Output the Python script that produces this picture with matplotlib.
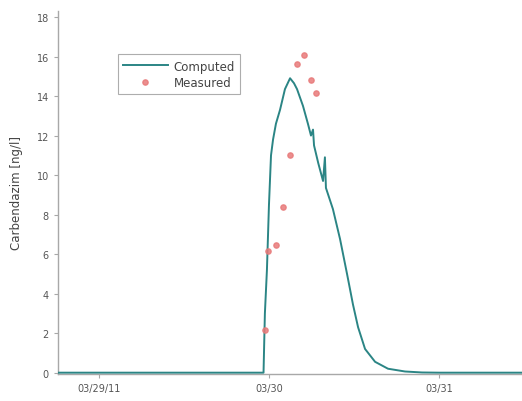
import matplotlib
matplotlib.use("Agg")
import matplotlib.pyplot as plt
import pandas as pd

start = pd.Timestamp("2011-03-29")

# Computed series: time offsets (days from 03/29/11 00:00) and concentration [ng/l]
comp_days = [-0.30, 0.00, 0.50, 0.90, 0.968, 0.976, 0.988, 1.000, 1.012,
             1.024, 1.041, 1.065, 1.094, 1.124, 1.147, 1.165, 1.200,
             1.229, 1.247, 1.259, 1.265, 1.290, 1.318, 1.329, 1.335,
             1.376, 1.418, 1.459, 1.476, 1.494, 1.524, 1.565, 1.624,
             1.700, 1.800, 1.900, 2.000, 2.600]
comp_vals = [0.0, 0.0, 0.0, 0.0, 0.0, 3.0, 5.2, 8.5, 11.0,
             11.8, 12.6, 13.3, 14.35, 14.9, 14.65, 14.35, 13.5,
             12.6, 12.0, 12.3, 11.5, 10.6, 9.7, 10.9, 9.35,
             8.28, 6.76, 5.0, 4.25, 3.45, 2.3, 1.2, 0.55,
             0.2, 0.06, 0.01, 0.0, 0.0]

# Measured samples
meas_days = [0.976, 0.994, 1.041, 1.082, 1.124, 1.165, 1.206, 1.247, 1.276]
meas_vals = [2.15, 6.15, 6.45, 8.4, 11.0, 15.6, 16.1, 14.8, 14.15]

tick_days = [0, 1, 2]
tick_labels = ["03/29/11", "03/30", "03/31"]

comp_t = [start + pd.Timedelta(days=d) for d in comp_days]
meas_t = [start + pd.Timedelta(days=d) for d in meas_days]
tick_t = [start + pd.Timedelta(days=d) for d in tick_days]

fig = plt.figure(figsize=(5.22, 4.02), dpi=100)
ax = fig.add_axes([0.111, 0.068, 0.889, 0.902])

ax.plot(comp_t, comp_vals, color="#2b8585", lw=1.4, label="Computed", zorder=3,
        solid_joinstyle="round")
ax.plot(meas_t, meas_vals, ls="none", marker="o", ms=3.8, color="#e87a7a",
        alpha=0.85, label="Measured", zorder=4)

ax.set_xlim(start + pd.Timedelta(days=-0.241), start + pd.Timedelta(days=2.488))
ax.set_ylim(-0.05, 18.3)
ax.set_xticks(tick_t)
ax.set_xticklabels(tick_labels)
ax.set_yticks(range(0, 19, 2))

for s in ["top", "right"]:
    ax.spines[s].set_visible(False)
for s in ["left", "bottom"]:
    ax.spines[s].set_color("#a8a8a8")
    ax.spines[s].set_linewidth(1.0)
ax.tick_params(axis="both", colors="#a8a8a8", labelcolor="#555555",
               labelsize=7, length=3, width=0.8)

ax.set_ylabel("Carbendazim [ng/l]", fontsize=8.5, color="#444444", labelpad=10)

leg = ax.legend(loc="upper left", bbox_to_anchor=(0.116, 0.897), fontsize=8.5,
                frameon=True, fancybox=False, handlelength=3.8,
                borderpad=0.45, labelspacing=0.3, handletextpad=0.5)
leg.get_frame().set_edgecolor("#999999")
leg.get_frame().set_linewidth(0.8)
for t in leg.get_texts():
    t.set_color("#444444")

fig.savefig("out.png", dpi=100)
